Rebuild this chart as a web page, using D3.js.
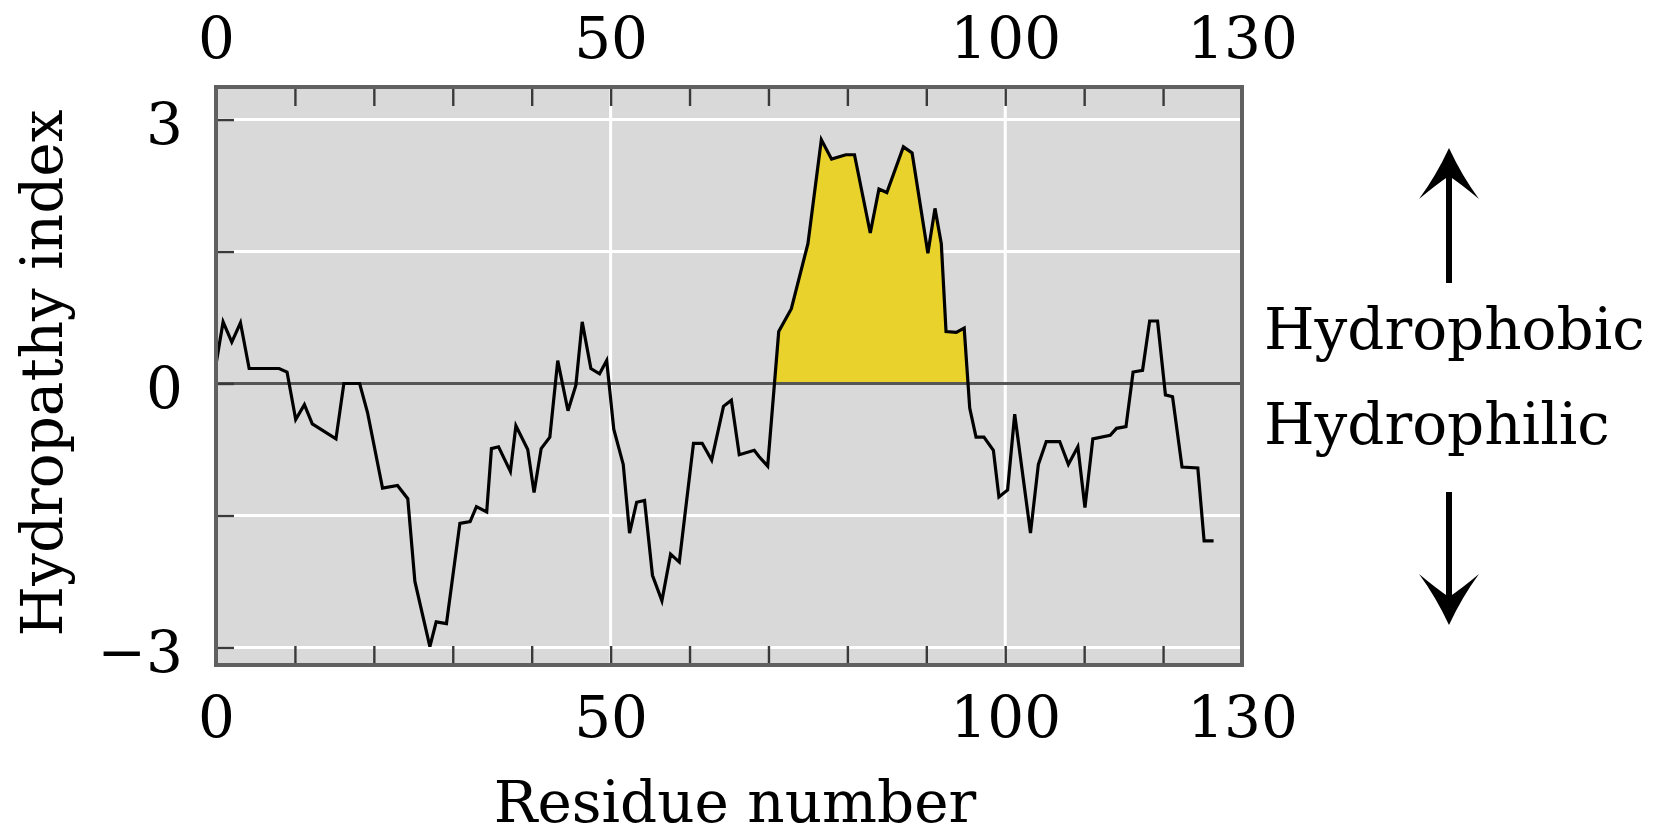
<!DOCTYPE html>
<html>
<head>
<meta charset="utf-8">
<script src="https://cdn.jsdelivr.net/npm/d3@7"></script>
<style>
    body { margin: 0; background: #fff; }
    text { font-family: "DejaVu Serif", serif; fill: #000; }
</style>
</head>
<body>
<div id="chart"></div>
<script>
// residue positions and hydropathy values
const residue = [0, 0.9, 2.0, 3.1, 4.2, 8.0, 9.0, 10.1, 11.2, 12.2, 15.2, 16.2, 18.2, 19.2, 21.1, 23.0, 24.3, 25.2, 27.1, 27.9,
    29.2, 30.9, 32.2, 33.0, 34.3, 34.9, 35.8, 37.3, 38.0, 39.5, 40.3, 41.2, 42.3, 43.3, 44.6, 45.6, 46.4, 47.5, 48.6, 49.5,
    50.4, 51.6, 52.4, 53.3, 54.3, 55.3, 56.5, 57.6, 58.7, 60.5, 61.6, 62.8, 64.3, 65.3, 66.3, 68.2, 68.8, 69.9, 71.3, 72.9,
    75.0, 76.7, 78.0, 79.8, 80.9, 82.9, 84.0, 85.0, 87.1, 88.2, 90.2, 91.1, 91.9, 92.5, 93.8, 94.8, 95.5, 96.3, 97.3, 98.5,
    99.2, 100.3, 101.2, 103.2, 104.2, 105.2, 106.9, 108.0, 109.2, 110.1, 111.1, 113.3, 114.1, 115.3, 116.2, 117.4, 118.3, 119.3, 120.3, 121.2,
    122.4, 124.4, 125.2, 126.4];
const hydropathy = [0.22, 0.70, 0.47, 0.69, 0.17, 0.17, 0.13, -0.41, -0.24, -0.46, -0.63, 0.0, 0.0, -0.33, -1.19, -1.16, -1.31, -2.25, -2.99, -2.71,
    -2.73, -1.59, -1.57, -1.40, -1.46, -0.74, -0.72, -1.00, -0.48, -0.75, -1.24, -0.74, -0.61, 0.26, -0.31, -0.02, 0.70, 0.17, 0.11, 0.26,
    -0.52, -0.92, -1.70, -1.35, -1.33, -2.18, -2.47, -1.94, -2.03, -0.68, -0.68, -0.87, -0.26, -0.19, -0.81, -0.76, -0.83, -0.94, 0.59, 0.85,
    1.59, 2.77, 2.55, 2.60, 2.60, 1.71, 2.21, 2.17, 2.69, 2.62, 1.48, 1.99, 1.59, 0.59, 0.58, 0.63, -0.28, -0.61, -0.61, -0.76,
    -1.29, -1.21, -0.35, -1.70, -0.92, -0.66, -0.66, -0.92, -0.72, -1.41, -0.63, -0.59, -0.51, -0.49, 0.13, 0.15, 0.71, 0.71, -0.13, -0.15,
    -0.95, -0.96, -1.79, -1.79];

// shaded hydrophobic stretch (residues)
const hydrophobicSpan = [69.9, 96.3];

const xDomain = [0, 130];
const yDomain = [-3.2, 3.37];
const xTickLabels = [0, 50, 100, 130];
const xMinorTicks = d3.range(10, 130, 10);
const xGrid = [50, 100];
const yTickLabels = [-3, 0, 3];
const yGrid = [-3, -1.5, 1.5, 3];
const yTicks = [-3, -1.5, 0, 1.5, 3];

const data = residue.map((r, i) => ({ res: r, value: hydropathy[i] }));

const width = 1660;
const height = 838;
const plot = { left: 216, right: 1242, top: 87, bottom: 665 };
const fontSize = 58;

const svg = d3.select("#chart").append("svg")
    .attr("width", width)
    .attr("height", height);

const x = d3.scaleLinear().domain(xDomain).range([plot.left, plot.right]);
const y = d3.scaleLinear().domain(yDomain).range([plot.bottom, plot.top]);

//фон
svg.append("rect")
    .attr("x", plot.left)
    .attr("y", plot.top)
    .attr("width", plot.right - plot.left)
    .attr("height", plot.bottom - plot.top)
    .attr("fill", "#d9d9d9");

//белая сетка
svg.append("g").selectAll("line")
    .data(yGrid)
    .join("line")
    .attr("x1", plot.left).attr("x2", plot.right)
    .attr("y1", d => y(d)).attr("y2", d => y(d))
    .attr("stroke", "#fff")
    .attr("stroke-width", 3);

svg.append("g").selectAll("line")
    .data(xGrid)
    .join("line")
    .attr("x1", d => x(d)).attr("x2", d => x(d))
    .attr("y1", plot.top).attr("y2", plot.bottom)
    .attr("stroke", "#fff")
    .attr("stroke-width", 3);

//заливка гидрофобного участка
svg.append("clipPath")
    .attr("id", "span-clip")
    .append("rect")
    .attr("x", x(hydrophobicSpan[0]))
    .attr("y", plot.top)
    .attr("width", x(hydrophobicSpan[1]) - x(hydrophobicSpan[0]))
    .attr("height", y(0) - plot.top);

const area = d3.area()
    .x(d => x(d.res))
    .y0(y(0))
    .y1(d => y(d.value));

svg.append("path")
    .datum(data)
    .attr("clip-path", "url(#span-clip)")
    .attr("fill", "#e8d22b")
    .attr("d", area);

//нулевая линия
svg.append("line")
    .attr("x1", plot.left).attr("x2", plot.right)
    .attr("y1", y(0)).attr("y2", y(0))
    .attr("stroke", "#555")
    .attr("stroke-width", 3);

const line = d3.line()
    .x(d => x(d.res))
    .y(d => y(d.value));

svg.append("path")
    .datum(data)
    .attr("fill", "none")
    .attr("stroke", "#000")
    .attr("stroke-width", 3.2)
    .attr("stroke-linejoin", "miter")
    .attr("d", line);

//внутренние засечки
const tickColor = "#3a3a3a";
svg.append("g")
    .attr("transform", `translate(0,${plot.top})`)
    .call(d3.axisTop(x).tickValues(xMinorTicks).tickSize(-19).tickFormat(""))
    .call(g => g.select(".domain").remove())
    .call(g => g.selectAll("line").attr("stroke", tickColor).attr("stroke-width", 2.4));

svg.append("g")
    .attr("transform", `translate(0,${plot.bottom})`)
    .call(d3.axisBottom(x).tickValues(xMinorTicks).tickSize(-19).tickFormat(""))
    .call(g => g.select(".domain").remove())
    .call(g => g.selectAll("line").attr("stroke", tickColor).attr("stroke-width", 2.4));

svg.append("g")
    .attr("transform", `translate(${plot.left},0)`)
    .call(d3.axisLeft(y).tickValues(yTicks).tickSize(-18).tickFormat(""))
    .call(g => g.select(".domain").remove())
    .call(g => g.selectAll("line").attr("stroke", tickColor).attr("stroke-width", 2.4));

//рамка
svg.append("rect")
    .attr("x", plot.left)
    .attr("y", plot.top)
    .attr("width", plot.right - plot.left)
    .attr("height", plot.bottom - plot.top)
    .attr("fill", "none")
    .attr("stroke", "#606060")
    .attr("stroke-width", 4);

//подписи осей
const minus = d => d < 0 ? "\u2212" + Math.abs(d) : String(d);

svg.append("g")
    .attr("transform", `translate(0,${plot.top})`)
    .call(d3.axisTop(x).tickValues(xTickLabels).tickSize(0).tickFormat(minus))
    .call(g => g.select(".domain").remove())
    .call(g => g.selectAll("text")
        .attr("y", 58 - plot.top)
        .attr("dy", 0)
        .attr("font-size", fontSize));

svg.append("g")
    .attr("transform", `translate(0,${plot.bottom})`)
    .call(d3.axisBottom(x).tickValues(xTickLabels).tickSize(0).tickFormat(minus))
    .call(g => g.select(".domain").remove())
    .call(g => g.selectAll("text")
        .attr("y", 737 - plot.bottom)
        .attr("dy", 0)
        .attr("font-size", fontSize));

svg.append("g")
    .attr("transform", `translate(${plot.left},0)`)
    .call(d3.axisLeft(y).tickValues(yTickLabels).tickSize(0).tickFormat(minus))
    .call(g => g.select(".domain").remove())
    .call(g => g.selectAll("text")
        .attr("x", 183 - plot.left)
        .attr("dy", "0.41em")
        .attr("font-size", fontSize));

svg.selectAll("g text").attr("font-family", "DejaVu Serif").attr("fill", "#000");

//заголовки осей
svg.append("text")
    .attr("x", 735)
    .attr("y", 822)
    .attr("text-anchor", "middle")
    .attr("font-size", fontSize)
    .text("Residue number");

svg.append("text")
    .attr("transform", `translate(62,${(plot.top + plot.bottom) / 2 - 3}) rotate(-90)`)
    .attr("text-anchor", "middle")
    .attr("font-size", fontSize)
    .text("Hydropathy index");

//стрелки справа
svg.append("text")
    .attr("x", 1264)
    .attr("y", 349)
    .attr("font-size", fontSize)
    .text("Hydrophobic");

svg.append("text")
    .attr("x", 1264)
    .attr("y", 444)
    .attr("font-size", fontSize)
    .text("Hydrophilic");

function arrow(cx, tail, tip) {
    const dir = tip < tail ? -1 : 1;
    const notch = tip - dir * 28;
    const wing = tip - dir * 51;
    svg.append("line")
        .attr("x1", cx).attr("x2", cx)
        .attr("y1", tail).attr("y2", notch)
        .attr("stroke", "#000")
        .attr("stroke-width", 6);
    svg.append("path")
        .attr("fill", "#000")
        .attr("d", `M${cx},${tip} Q${cx + 13},${tip - dir * 28} ${cx + 30},${wing}`
            + ` Q${cx + 12},${notch - dir * 8} ${cx},${notch} Q${cx - 12},${notch - dir * 8} ${cx - 30},${wing}`
            + ` Q${cx - 13},${tip - dir * 28} ${cx},${tip} Z`);
}

arrow(1449, 283, 148);
arrow(1449, 492, 625);
</script>
</body>
</html>
